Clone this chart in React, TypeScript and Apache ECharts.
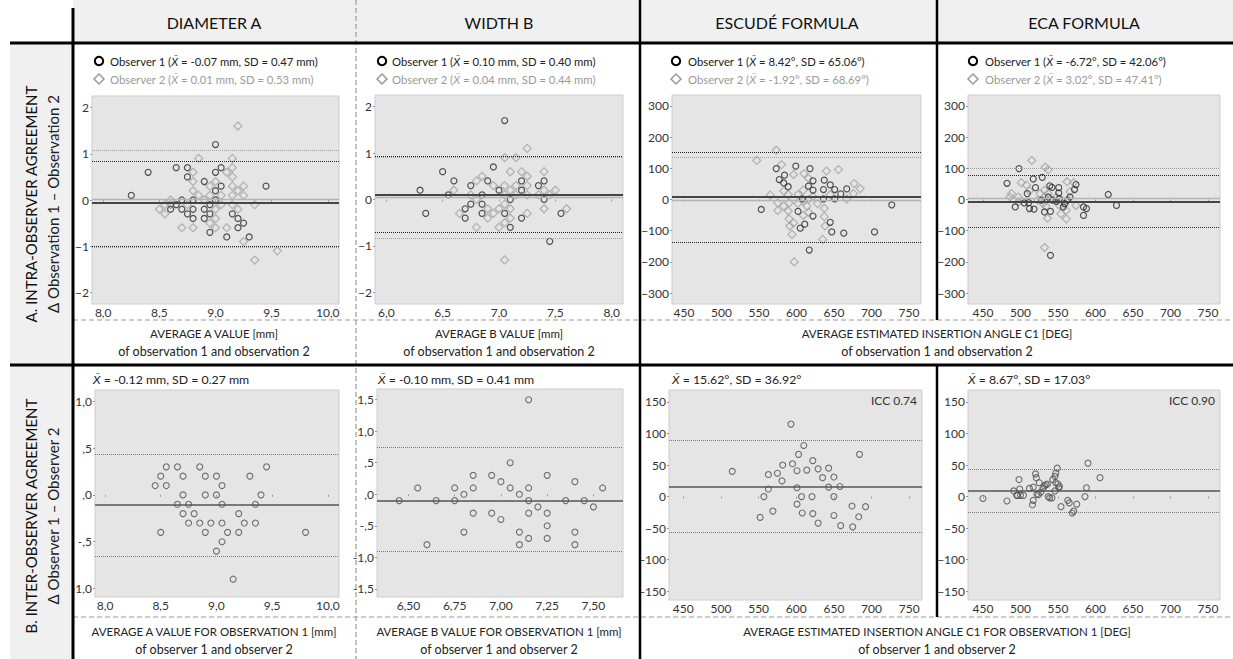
import React, { useEffect, useRef } from "react";
import * as echarts from "echarts";

type Pt = [number, number];

const FONT = "Lato, 'DejaVu Sans', sans-serif";

// ---------- texts ----------
const columnHeaders = ["DIAMETER A", "WIDTH B", "ESCUDÉ FORMULA", "ECA FORMULA"];
const rowTitles = ["A. INTRA-OBSERVER AGREEMENT", "B. INTER-OBSERVER AGREEMENT"];
const rowSubtitles = ["Δ Observation 1 – Observation 2", "Δ Observer 1 – Observer 2"];
const intraLegendObs1 = [
  "Observer 1 ({i|X\u0304} = -0.07 mm, SD = 0.47 mm)",
  "Observer 1 ({i|X\u0304} = 0.10 mm, SD = 0.40 mm)",
  "Observer 1 ({i|X\u0304} = 8.42°, SD = 65.06°)",
  "Observer 1 ({i|X\u0304} = -6.72°, SD = 42.06°)",
];
const intraLegendObs2 = [
  "Observer 2 ({i|X\u0304} = 0.01 mm, SD = 0.53 mm)",
  "Observer 2 ({i|X\u0304} = 0.04 mm, SD = 0.44 mm)",
  "Observer 2 ({i|X\u0304} = -1.92°, SD = 68.69°)",
  "Observer 2 ({i|X\u0304} = 3.02°, SD = 47.41°)",
];
const interStats = [
  "{i|X\u0304} = -0.12 mm, SD = 0.27 mm",
  "{i|X\u0304} = -0.10 mm, SD = 0.41 mm",
  "{i|X\u0304} = 15.62°, SD = 36.92°",
  "{i|X\u0304} = 8.67°, SD = 17.03°",
];
const iccLabels = ["", "", "ICC 0.74", "ICC 0.90"];
const intraAxisTitles = [
  ["AVERAGE A VALUE [mm]", "of observation 1 and observation 2"],
  ["AVERAGE B VALUE [mm]", "of observation 1 and observation 2"],
  ["AVERAGE ESTIMATED INSERTION ANGLE C1 [DEG]", "of observation 1 and observation 2"],
];
const interAxisTitles = [
  ["AVERAGE A VALUE FOR OBSERVATION 1 [mm]", "of observer 1 and observer 2"],
  ["AVERAGE B VALUE FOR OBSERVATION 1 [mm]", "of observer 1 and observer 2"],
  ["AVERAGE ESTIMATED INSERTION ANGLE C1 FOR OBSERVATION 1 [DEG]", "of observer 1 and observer 2"],
];

// ---------- tick values ----------
const diamTicksX = [8.0, 8.5, 9.0, 9.5, 10.0];
const widthIntraTicksX = [6.0, 6.5, 7.0, 7.5, 8.0];
const widthInterTicksX = [6.5, 6.75, 7.0, 7.25, 7.5];
const angleTicksX = [450, 500, 550, 600, 650, 700, 750];
const mmIntraTicksY = [-2, -1, 0, 1, 2];
const angleIntraTicksY = [-300, -200, -100, 0, 100, 200, 300];
const diamInterTicksY = [-1.0, -0.5, 0, 0.5, 1.0];
const widthInterTicksY = [-1.5, -1.0, -0.5, 0, 0.5, 1.0, 1.5];
const angleInterTicksY = [-150, -100, -50, 0, 50, 100, 150];

// ---------- mean / limits of agreement [mean, upper, lower] ----------
const diamIntraLines1 = [-0.07, 0.83, -0.99];
const diamIntraLines2 = [0.01, 1.08, -1.03];
const widthIntraLines1 = [0.1, 0.93, -0.7];
const widthIntraLines2 = [0.04, 0.91, -0.84];
const escudeIntraLines1 = [8.42, 153, -136];
const escudeIntraLines2 = [-1.92, 136, -137];
const ecaIntraLines1 = [-6.72, 79, -89];
const ecaIntraLines2 = [3.02, 99, -90];
const diamInterLines = [-0.11, 0.43, -0.65];
const widthInterLines = [-0.1, 0.75, -0.9];
const escudeInterLines = [16, 90, -56];
const ecaInterLines = [9, 44, -25];

// ---------- points ----------
const diamIntraObs1: Pt[] = [
  [8.25, 0.1], [8.4, 0.6], [8.65, 0.7], [8.75, 0.7], [8.75, 0.5], [9.0, 1.2], [9.05, 0.7], [9.0, 0.6],
  [8.9, 0.4], [9.05, 0.3], [9.45, 0.3], [8.7, 0], [8.8, 0], [8.65, -0.1], [8.6, -0.2], [8.7, -0.2],
  [8.8, -0.2], [8.75, -0.3], [8.8, -0.4], [8.9, -0.2], [8.9, -0.4], [8.95, -0.3], [8.95, -0.7], [9.0, 0],
  [9.15, -0.3], [9.2, -0.4], [9.2, -0.6], [9.25, -0.5], [9.3, -0.8], [9.1, -0.8], [9.0, 0.2], [8.95, -0.1],
];
const diamIntraObs2: Pt[] = [
  [9.2, 1.6], [8.85, 0.9], [9.15, 0.9], [9.15, 0.7], [8.8, 0.6], [9.1, 0.6], [9.15, 0.5], [8.8, 0.4],
  [9.0, 0.4], [8.95, 0.3], [9.15, 0.3], [9.25, 0.3], [8.8, 0.2], [9.2, 0.2], [8.85, 0.1], [8.95, 0.1],
  [9.15, 0.1], [9.25, 0.1], [9.05, 0.1], [8.6, 0], [8.9, 0], [8.55, -0.1], [9.05, -0.1], [9.15, -0.1],
  [9.35, -0.1], [8.5, -0.2], [9.0, -0.2], [9.2, -0.2], [8.55, -0.3], [9.0, -0.4], [8.95, -0.5], [8.7, -0.6],
  [8.8, -0.6], [9.0, -0.6], [9.1, -0.6], [9.25, -0.9], [9.35, -1.3], [9.55, -1.1], [8.6, -0.1], [8.75, -0.1],
];
const widthIntraObs1: Pt[] = [
  [6.3, 0.2], [6.35, -0.3], [6.5, 0.6], [6.55, 0.1], [6.6, 0.4], [6.75, 0.3], [6.75, -0.1], [6.7, -0.2],
  [6.7, -0.4], [6.85, 0.1], [6.85, -0.1], [6.85, -0.3], [6.9, 0.4], [6.95, 0.7], [7.0, 0.2], [7.05, 1.7],
  [7.05, -0.3], [7.1, 0], [7.1, -0.6], [7.2, 0.4], [7.2, 0.2], [7.2, -0.4], [7.35, 0.3], [7.4, 0.4],
  [7.4, 0], [7.45, -0.9], [7.55, -0.3],
];
const widthIntraObs2: Pt[] = [
  [7.25, 1.1], [7.05, 0.9], [7.15, 0.9], [7.1, 0.6], [7.2, 0.6], [7.4, 0.6], [6.85, 0.5], [6.8, 0.4],
  [7.25, 0.5], [6.95, 0.3], [7.05, 0.3], [7.15, 0.3], [7.25, 0.3], [6.6, 0.2], [7.1, 0.2], [7.4, 0.2],
  [7.5, 0.2], [6.75, 0.1], [7.05, 0.1], [7.15, 0.1], [7.25, 0.1], [7.35, 0.1], [7.45, 0.1], [6.8, 0],
  [6.9, -0.2], [7.0, -0.2], [7.1, -0.2], [7.4, -0.2], [7.6, -0.2], [6.65, -0.3], [6.95, -0.3], [7.25, -0.3],
  [6.9, -0.4], [7.1, -0.4], [7.05, -0.5], [6.8, -0.6], [7.0, -0.6], [7.05, -1.3], [7.05, -0.1],
];
const escudeIntraObs1: Pt[] = [
  [599, 107], [618, 99], [573, 99], [584, 78], [577, 64], [583, 53], [589, 41], [616, 43], [622, 60],
  [622, 30], [637, 62], [645, 47], [636, 32], [651, 32], [667, 34], [659, 18], [651, 2], [636, 2],
  [608, 2], [553, -32], [602, -38], [727, -17], [622, -53], [645, -73], [611, -79], [605, -92],
  [647, -104], [663, -108], [704, -104], [617, -162],
];
const escudeIntraObs2: Pt[] = [
  [573, 158], [547, 125], [580, 112], [596, 80], [610, 83], [616, 68], [640, 91], [656, 96], [677, 51],
  [685, 35], [676, 19], [667, 2], [565, 14], [583, 27], [589, 16], [602, 16], [609, 30], [609, -5],
  [616, 0], [622, 9], [628, -13], [637, -28], [645, 16], [575, -11], [583, -21], [590, -11], [575, -35],
  [589, -37], [602, -13], [609, -51], [616, -41], [637, -55], [638, -85], [590, -62], [596, -75],
  [591, -85], [594, -112], [635, -128], [597, -200], [614, -21],
];
const ecaIntraObs1: Pt[] = [
  [498, 99], [482, 52], [517, 66], [529, 71], [520, 38], [539, 44], [542, 39], [551, 38], [551, 21],
  [574, 48], [572, 32], [509, 19], [505, -11], [493, -24], [511, -10], [512, -29], [518, -31], [528, -2],
  [532, -40], [540, -38], [543, -2], [548, -6], [557, -24], [559, -13], [563, -2], [566, 8], [584, -24],
  [588, -29], [584, -51], [617, 16], [628, -19], [540, -179], [537, 8], [552, 3],
];
const ecaIntraObs2: Pt[] = [
  [515, 125], [533, 104], [537, 95], [501, 54], [508, 46], [562, 57], [571, 54], [488, 19], [486, 8],
  [497, 8], [512, 28], [526, 19], [532, 30], [537, 19], [523, -2], [530, -13], [534, -22], [548, 8],
  [552, -19], [554, -46], [561, -35], [574, -19], [536, -60], [561, -62], [532, -154], [566, 25],
  [497, -8], [532, 8], [539, 3],
];
const diamInter: Pt[] = [
  [8.45, 0.1], [8.5, 0.2], [8.55, 0.3], [8.55, 0.1], [8.65, 0.3], [8.5, -0.4], [8.7, 0.2], [8.7, 0],
  [8.65, -0.1], [8.75, -0.1], [8.7, -0.2], [8.8, -0.2], [8.75, -0.3], [8.85, 0.3], [8.9, 0.2], [8.9, 0],
  [8.85, -0.3], [8.9, -0.4], [8.95, -0.3], [9.0, 0.2], [9.0, 0], [9.05, 0.1], [9.05, -0.1], [9.05, -0.3],
  [9.1, -0.4], [9.05, -0.5], [9.0, -0.6], [9.15, -0.9], [9.2, -0.2], [9.2, -0.4], [9.25, -0.3], [9.3, 0.2],
  [9.35, -0.1], [9.35, -0.3], [9.4, 0], [9.45, 0.3], [9.8, -0.4],
];
const widthInter: Pt[] = [
  [6.45, -0.1], [6.55, 0.1], [6.6, -0.8], [6.65, -0.1], [6.75, 0.1], [6.75, -0.1], [6.8, 0], [6.8, -0.6],
  [6.85, 0.3], [6.85, 0.1], [6.85, -0.3], [6.95, 0.3], [6.95, -0.3], [7.0, 0.2], [7.0, -0.4], [7.05, 0.5],
  [7.05, 0.1], [7.1, 0], [7.1, -0.6], [7.1, -0.8], [7.15, 1.5], [7.15, 0.1], [7.15, -0.1], [7.15, -0.3],
  [7.15, -0.7], [7.2, -0.2], [7.25, 0.3], [7.25, -0.3], [7.25, -0.5], [7.25, -0.7], [7.35, -0.1], [7.4, 0.2],
  [7.4, -0.6], [7.4, -0.8], [7.45, -0.1], [7.5, -0.2], [7.55, 0.1],
];
const escudeInter: Pt[] = [
  [593, 115], [610, 81], [603, 67], [684, 67], [622, 57], [595, 52], [582, 50], [515, 40], [563, 35],
  [575, 37], [601, 41], [614, 42], [629, 44], [643, 45], [635, 30], [650, 31], [581, 25], [563, 12],
  [601, 14], [643, 15], [658, 16], [557, 0], [607, 0], [621, 0], [650, 0], [601, -12], [674, -15],
  [692, -16], [569, -23], [608, -26], [622, -27], [552, -33], [650, -30], [683, -32], [629, -42],
  [659, -46], [675, -48],
];
const ecaInter: Pt[] = [
  [450, -3], [482, -7], [491, 9], [495, 2], [498, 27], [499, 12], [496, 2], [500, 2], [504, 2], [512, 13],
  [517, 15], [516, -13], [517, -6], [520, 36], [521, 30], [522, 4], [525, 22], [524, 3], [527, 7],
  [530, 13], [532, 17], [534, 19], [536, 20], [537, 0], [539, -2], [542, -2], [543, 27], [546, 32],
  [547, 37], [549, 45], [547, 22], [546, 9], [550, 20], [552, 16], [551, 14], [554, -16], [563, -6],
  [565, -10], [569, -26], [571, -23], [575, -12], [586, 0], [588, 14], [590, 53], [606, 30],
];

// ---------- formatters ----------
const fmtComma1 = (v: number) => v.toFixed(1).replace(".", ",");
const fmtComma2 = (v: number) => v.toFixed(2).replace(".", ",");
const fmtInt = (v: number) => (v < 0 ? "\u2212" + Math.abs(v) : String(v));
const fmtSpss = (v: number) => {
  let s = Math.abs(v).toFixed(1).replace(".", ",");
  if (Math.abs(v) < 1) s = s.replace(/^0/, "");
  return (v < 0 ? "-" : "") + s;
};

// ---------- styles ----------
const PLOT_BG = "#e5e5e5";
const PLOT_BORDER = "#cdcdcd";
const PANEL_BG = "#f0f0f0";
const OBS1 = "#2a2a2a";
const OBS2 = "#a3a3a3";
const INTER = "#505050";

interface Panel {
  grid: { left: number; top: number; width: number; height: number };
  xMin: number; xMax: number; xTicks: number[]; xFmt: (v: number) => string;
  yMin: number; yMax: number; yTicks: number[]; yFmt: (v: number) => string;
  obs1: Pt[]; obs2?: Pt[]; lines1: number[]; lines2?: number[];
}

const panels: Panel[] = [
  { grid: { left: 92, top: 96, width: 247, height: 208 }, xMin: 7.9, xMax: 10.1, xTicks: diamTicksX, xFmt: fmtComma1,
    yMin: -2.25, yMax: 2.25, yTicks: mmIntraTicksY, yFmt: fmtInt, obs1: diamIntraObs1, obs2: diamIntraObs2, lines1: diamIntraLines1, lines2: diamIntraLines2 },
  { grid: { left: 375, top: 95, width: 248, height: 209 }, xMin: 5.9, xMax: 8.1, xTicks: widthIntraTicksX, xFmt: fmtComma1,
    yMin: -2.25, yMax: 2.25, yTicks: mmIntraTicksY, yFmt: fmtInt, obs1: widthIntraObs1, obs2: widthIntraObs2, lines1: widthIntraLines1, lines2: widthIntraLines2 },
  { grid: { left: 672, top: 95, width: 249, height: 209 }, xMin: 434, xMax: 766, xTicks: angleTicksX, xFmt: fmtInt,
    yMin: -335, yMax: 335, yTicks: angleIntraTicksY, yFmt: fmtInt, obs1: escudeIntraObs1, obs2: escudeIntraObs2, lines1: escudeIntraLines1, lines2: escudeIntraLines2 },
  { grid: { left: 968, top: 95, width: 252, height: 209 }, xMin: 430, xMax: 766, xTicks: angleTicksX, xFmt: fmtInt,
    yMin: -335, yMax: 335, yTicks: angleIntraTicksY, yFmt: fmtInt, obs1: ecaIntraObs1, obs2: ecaIntraObs2, lines1: ecaIntraLines1, lines2: ecaIntraLines2 },
  { grid: { left: 95, top: 390, width: 244, height: 207 }, xMin: 7.91, xMax: 10.1, xTicks: diamTicksX, xFmt: fmtComma1,
    yMin: -1.09, yMax: 1.12, yTicks: diamInterTicksY, yFmt: fmtSpss, obs1: diamInter, lines1: diamInterLines },
  { grid: { left: 377, top: 389, width: 246, height: 208 }, xMin: 6.33, xMax: 7.66, xTicks: widthInterTicksX, xFmt: fmtComma2,
    yMin: -1.63, yMax: 1.67, yTicks: widthInterTicksY, yFmt: fmtSpss, obs1: widthInter, lines1: widthInterLines },
  { grid: { left: 669, top: 390, width: 253, height: 210 }, xMin: 431, xMax: 767, xTicks: angleTicksX, xFmt: fmtInt,
    yMin: -164, yMax: 169, yTicks: angleInterTicksY, yFmt: fmtInt, obs1: escudeInter, lines1: escudeInterLines },
  { grid: { left: 968, top: 390, width: 252, height: 210 }, xMin: 430, xMax: 766, xTicks: angleTicksX, xFmt: fmtInt,
    yMin: -164, yMax: 169, yTicks: angleInterTicksY, yFmt: fmtInt, obs1: ecaInter, lines1: ecaInterLines },
];

function limitLines(i: number, lines: number[], color: string, meanWidth: number, dotWidth: number, dotColor: string) {
  return {
    type: "scatter",
    xAxisIndex: i,
    yAxisIndex: i,
    data: [],
    z: 1,
    silent: true,
    markLine: {
      silent: true,
      symbol: ["none", "none"],
      label: { show: false },
      emphasis: { disabled: true },
      data: [
        { yAxis: lines[0], lineStyle: { color, width: meanWidth, type: "solid" } },
        { yAxis: lines[1], lineStyle: { color: dotColor, width: dotWidth, type: [1, 1] } },
        { yAxis: lines[2], lineStyle: { color: dotColor, width: dotWidth, type: [1, 1] } },
      ],
    },
  };
}

function buildOption() {
  const grid: any[] = [];
  const xAxis: any[] = [];
  const yAxis: any[] = [];
  const series: any[] = [];
  const labelStyle = { color: "#333", fontSize: 12, fontFamily: FONT };

  panels.forEach((p, i) => {
    grid.push({ ...p.grid, show: true, backgroundColor: PLOT_BG, borderColor: PLOT_BORDER, borderWidth: 1 });
    xAxis.push({
      type: "value", gridIndex: i, min: p.xMin, max: p.xMax,
      splitLine: { show: false }, axisLine: { show: false },
      axisTick: { show: true, length: 2, lineStyle: { color: "#999" }, customValues: p.xTicks },
      axisLabel: { ...labelStyle, margin: 2, customValues: p.xTicks, formatter: p.xFmt },
    });
    yAxis.push({
      type: "value", gridIndex: i, min: p.yMin, max: p.yMax,
      splitLine: { show: false }, axisLine: { show: false },
      axisTick: { show: true, length: 2, lineStyle: { color: "#999" }, customValues: p.yTicks },
      axisLabel: { ...labelStyle, margin: 3, customValues: p.yTicks, formatter: p.yFmt },
    });
    if (p.obs2 && p.lines2) {
      series.push(limitLines(i, p.lines2, "#b4b4b4", 1.3, 1, "#a0a0a0"));
      series.push(limitLines(i, p.lines1, "#444", 2, 1.2, "#222"));
      series.push({
        type: "scatter", xAxisIndex: i, yAxisIndex: i, data: p.obs2, z: 3, silent: true,
        symbol: "diamond", symbolSize: 8,
        itemStyle: { color: "rgba(0,0,0,0)", borderColor: OBS2, borderWidth: 1.2 },
      });
      series.push({
        type: "scatter", xAxisIndex: i, yAxisIndex: i, data: p.obs1, z: 4, silent: true,
        symbol: "circle", symbolSize: 6,
        itemStyle: { color: "rgba(0,0,0,0)", borderColor: OBS1, borderWidth: 1.2 },
      });
    } else {
      series.push(limitLines(i, p.lines1, "#555", 1.5, 1.2, "#777"));
      series.push({
        type: "scatter", xAxisIndex: i, yAxisIndex: i, data: p.obs1, z: 3, silent: true,
        symbol: "circle", symbolSize: 6,
        itemStyle: { color: "rgba(0,0,0,0)", borderColor: INTER, borderWidth: 1.1 },
      });
    }
  });

  const txt = (x: number, y: number, text: string, opts: any = {}) => ({
    type: "text",
    x, y,
    rotation: opts.rotation || 0,
    z: 50,
    style: {
      text,
      fill: opts.fill || "#222",
      font: `${opts.weight || "normal"} ${opts.size || 12}px ${FONT}`,
      textAlign: opts.align || "left",
      align: opts.align || "left",
      textVerticalAlign: "middle",
      verticalAlign: "middle",
      rich: { i: { fontStyle: "italic", fontSize: opts.size || 12, fontFamily: FONT, fill: opts.fill || "#222" } },
    },
  });
  const line = (x1: number, y1: number, x2: number, y2: number, stroke: string, lineWidth: number, dash?: number[]) => ({
    type: "line", z: 40, silent: true,
    shape: { x1, y1, x2, y2 },
    style: { stroke, lineWidth, lineDash: dash || null },
  });

  const graphic: any[] = [];
  // backgrounds
  graphic.push({ type: "rect", z: -10, shape: { x: 73, y: 0, width: 1160, height: 43 }, style: { fill: PANEL_BG } });
  graphic.push({ type: "rect", z: -10, shape: { x: 10, y: 43, width: 63, height: 616 }, style: { fill: PANEL_BG } });

  // column headers
  const headerX = [214, 499, 787, 1084];
  columnHeaders.forEach((h, i) => graphic.push(txt(headerX[i], 22, h, { size: 16, fill: "#111", align: "center" })));

  // row titles
  const rowY = [204, 516];
  rowTitles.forEach((t, i) => {
    graphic.push(txt(31, rowY[i], t, { size: 15, fill: "#111", align: "center", rotation: Math.PI / 2 }));
    graphic.push(txt(53, rowY[i], rowSubtitles[i], { size: 15, fill: "#222", align: "center", rotation: Math.PI / 2 }));
  });

  // intra legends
  const legMarkX = [99, 382, 676, 973];
  const legTextX = [110, 392, 688, 985];
  for (let i = 0; i < 4; i++) {
    graphic.push({ type: "circle", z: 50, shape: { cx: legMarkX[i], cy: 61, r: 4.2 }, style: { fill: "none", stroke: "#000", lineWidth: 2 } });
    const dx = legMarkX[i], dy = 79;
    graphic.push({ type: "polygon", z: 50, shape: { points: [[dx, dy - 5], [dx + 5, dy], [dx, dy + 5], [dx - 5, dy]] }, style: { fill: "none", stroke: "#999", lineWidth: 1.5 } });
    graphic.push(txt(legTextX[i], 61, intraLegendObs1[i], { size: 11.3, fill: "#222" }));
    graphic.push(txt(legTextX[i], 79, intraLegendObs2[i], { size: 11.3, fill: "#9a9a9a" }));
  }
  // inter stats
  const interX = [93, 378, 672, 968];
  interStats.forEach((s, i) => graphic.push(txt(interX[i], 379, s, { size: 12.3, fill: "#222" })));
  // ICC
  graphic.push(txt(917, 400, iccLabels[2], { size: 12, fill: "#333", align: "right" }));
  graphic.push(txt(1215, 400, iccLabels[3], { size: 12, fill: "#333", align: "right" }));

  // axis titles
  const titleX = [214, 499, 937];
  intraAxisTitles.forEach((t, i) => {
    graphic.push(txt(titleX[i], 333, t[0], { size: 11.5, fill: "#222", align: "center" }));
    graphic.push(txt(titleX[i], 351, t[1], { size: 12.5, fill: "#222", align: "center" }));
  });
  interAxisTitles.forEach((t, i) => {
    graphic.push(txt(titleX[i], 631, t[0], { size: 11.5, fill: "#222", align: "center" }));
    graphic.push(txt(titleX[i], 649, t[1], { size: 12.5, fill: "#222", align: "center" }));
  });

  // separators
  const DASH = "#9a9a9a";
  graphic.push(line(356, 0, 356, 659, DASH, 1.2, [5, 3]));
  graphic.push(line(73, 320, 1233, 320, DASH, 1.2, [5, 3]));
  graphic.push(line(73, 617, 1233, 617, DASH, 1.2, [5, 3]));
  graphic.push(line(73, 8, 73, 659, "#000", 3));
  graphic.push(line(10, 43, 1233, 43, "#000", 3));
  graphic.push(line(10, 365, 1233, 365, "#000", 3));
  graphic.push(line(640, 0, 640, 659, "#000", 2.5));
  graphic.push(line(937, 0, 937, 320, "#000", 2.5));
  graphic.push(line(937, 365, 937, 617, "#000", 2.5));

  return {
    animation: false,
    backgroundColor: "#ffffff",
    textStyle: { fontFamily: FONT },
    grid,
    xAxis,
    yAxis,
    series,
    graphic,
  };
}

export default function App() {
  const ref = useRef<HTMLDivElement>(null);
  useEffect(() => {
    document.body.style.margin = "0";
    const chart = echarts.init(ref.current!, undefined, { renderer: "svg" });
    chart.setOption(buildOption() as any);
    return () => chart.dispose();
  }, []);
  return <div ref={ref} style={{ width: 1233, height: 659 }} />;
}
